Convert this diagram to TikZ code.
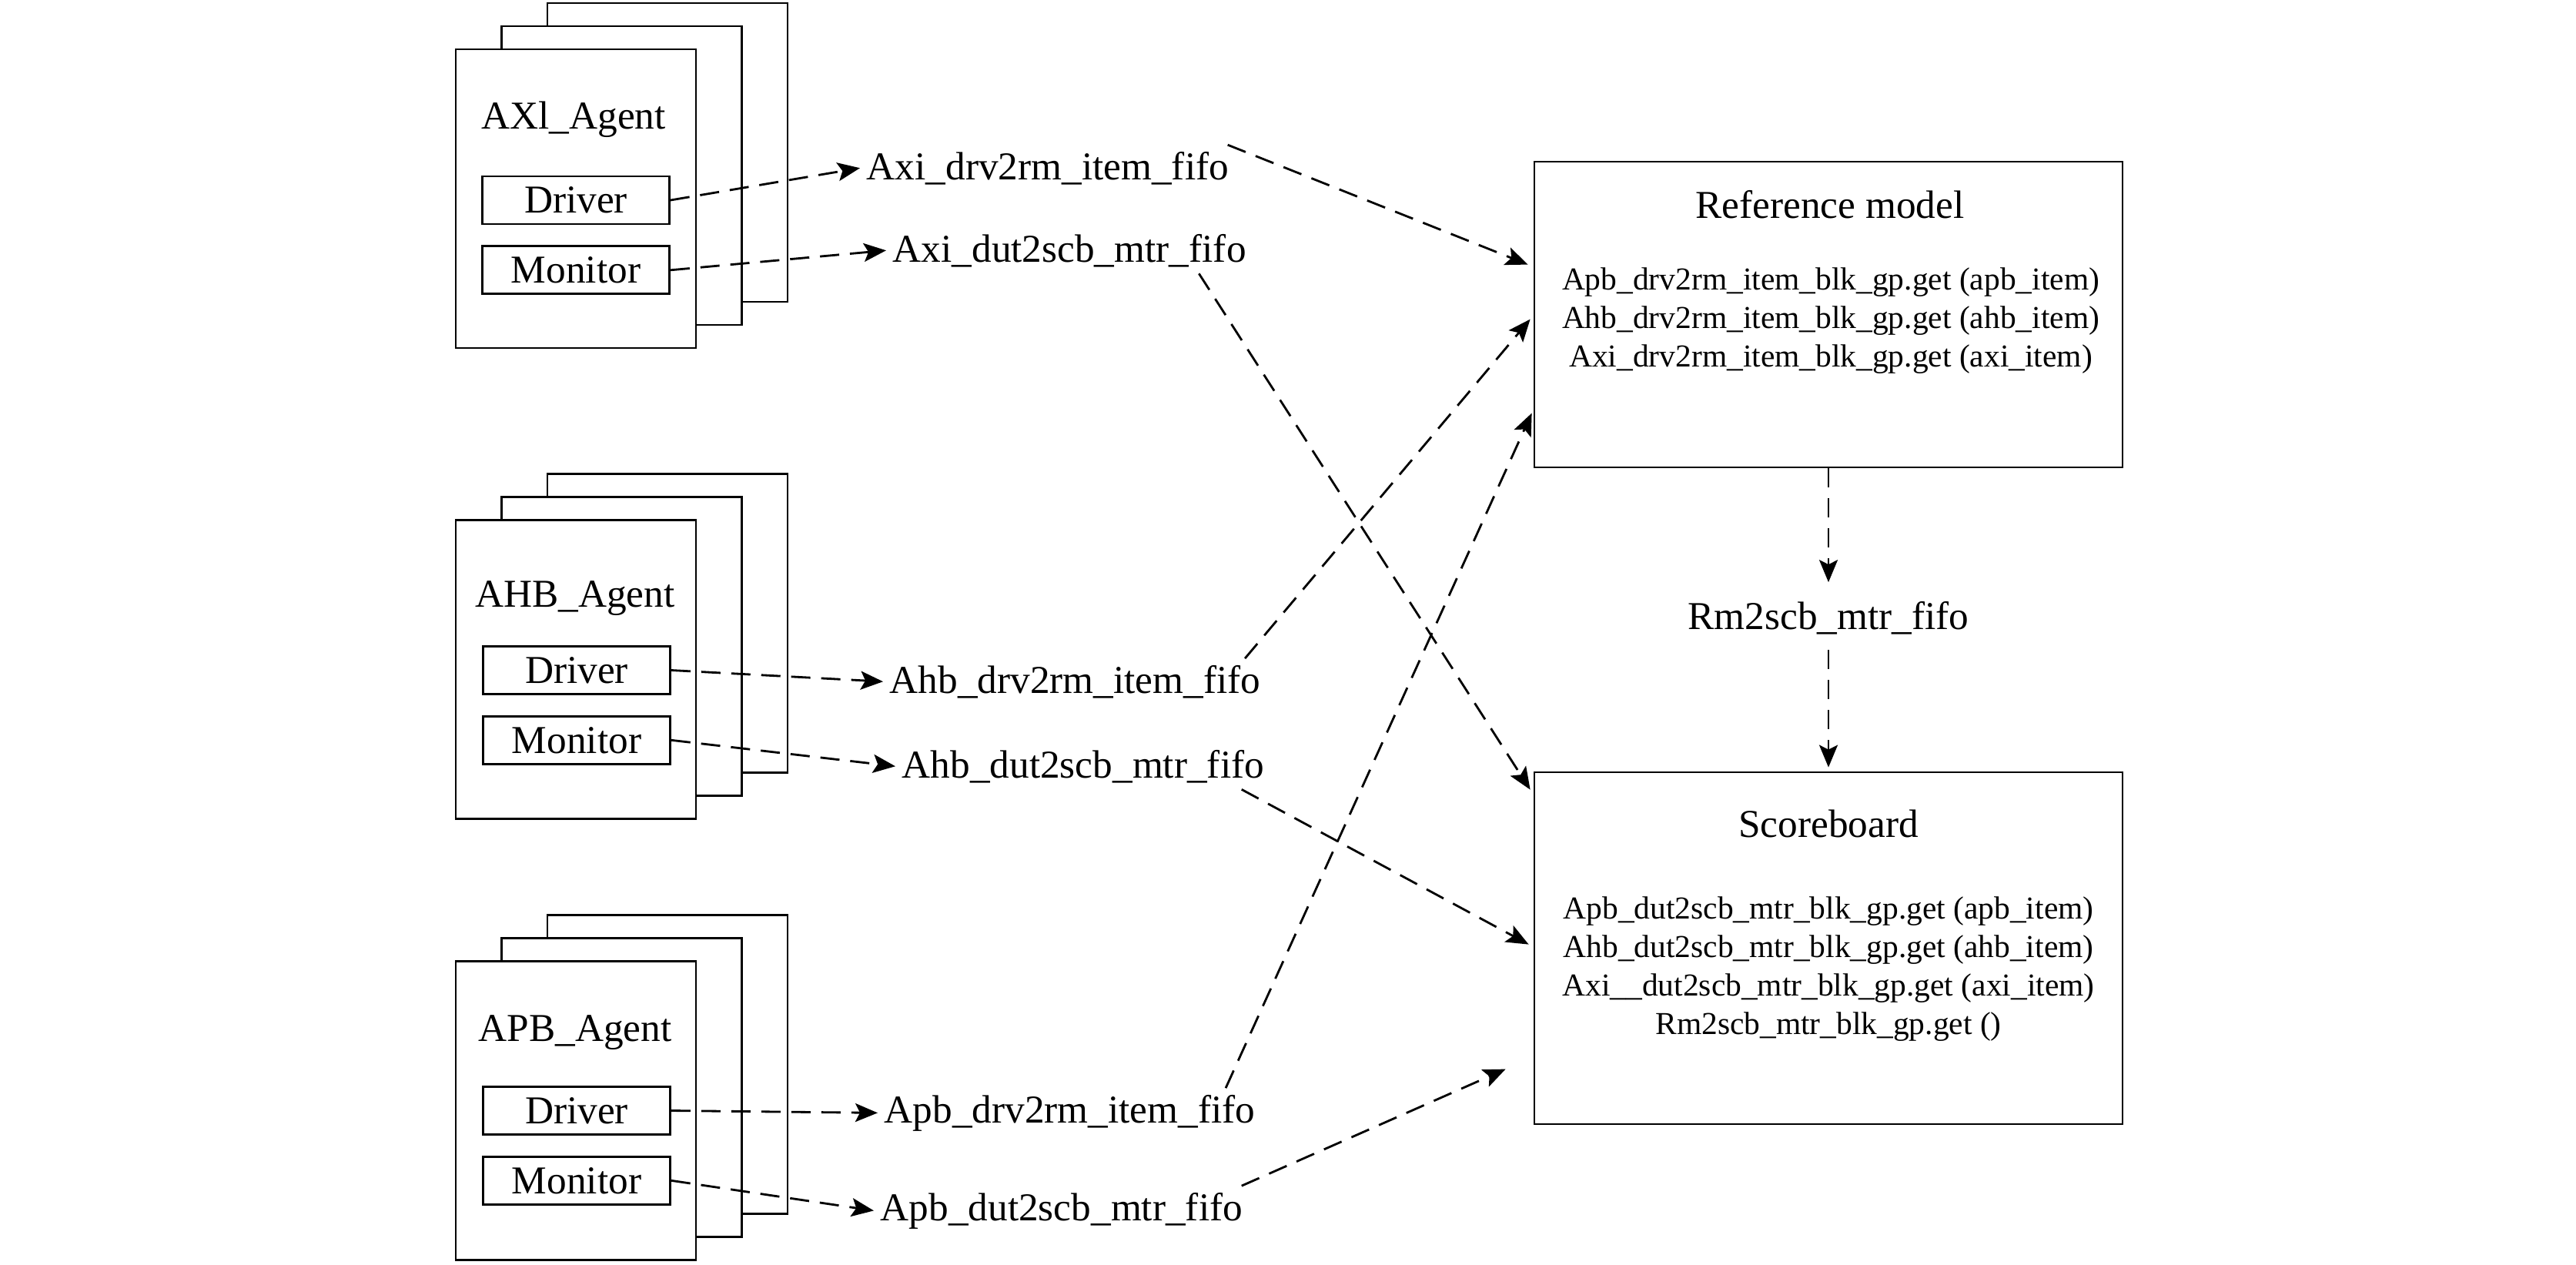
\documentclass[tikz,border=0pt]{standalone}
\usepackage{fontspec}
\setmainfont{Liberation Serif}
\usepackage{tikz}
\usetikzlibrary{positioning,arrows.meta}
\newcommand{\lblf}{\fontsize{14.6}{17.5}\selectfont}
\newcommand{\getf}{\fontsize{11.8}{14.2}\selectfont}

\begin{document}
\begin{tikzpicture}[
    >={Stealth[length=2.9mm,width=2.4mm,inset=0.6mm]},
    agent/.style={draw,fill=white,line width=0.8pt,
                  minimum width=3.12cm,minimum height=3.88cm},
    sub/.style={draw,fill=white,line width=0.8pt,minimum width=2.43cm,
                minimum height=0.62cm,inner sep=0pt,font=\lblf},
    big/.style={draw,line width=0.8pt,minimum width=7.64cm},
    ttl/.style={font=\lblf,anchor=base,inner sep=0pt},
    fifo/.style={font=\lblf,anchor=base west,inner sep=0.8mm},
    getl/.style={font=\getf,align=center,anchor=north,inner sep=0pt},
    arr/.style={->,line width=0.8pt,dash pattern=on 2.5mm off 1.4mm},
  ]
  \useasboundingbox (0,0) rectangle (33.46,-16.42);
  % agent stacks
  \node[agent] (axi3) at (8.67,-1.98)   {};
  \node[agent] (axi2) at (8.075,-2.28)  {};
  \node[agent] (axi1) at (7.48,-2.58)   {};
  \node[agent] (ahb3) at (8.67,-8.095)  {};
  \node[agent] (ahb2) at (8.075,-8.395) {};
  \node[agent] (ahb1) at (7.48,-8.695)  {};
  \node[agent] (apb3) at (8.67,-13.825) {};
  \node[agent] (apb2) at (8.075,-14.125){};
  \node[agent] (apb1) at (7.48,-14.425) {};
  \node[ttl] (axiname) at (7.45,-1.67)  {AXl\_Agent};
  \node[ttl] (ahbname) at (7.47,-7.88)  {AHB\_Agent};
  \node[ttl] (apbname) at (7.47,-13.52) {APB\_Agent};
  \node[sub] (axidrv) at (7.48,-2.60)  {Driver};
  \node[sub,below=0.26cm of axidrv] (aximon) {Monitor};
  \node[sub] (ahbdrv) at (7.49,-8.705) {Driver};
  \node[sub,below=0.26cm of ahbdrv] (ahbmon) {Monitor};
  \node[sub] (apbdrv) at (7.49,-14.425){Driver};
  \node[sub,below=0.26cm of apbdrv] (apbmon) {Monitor};
  % fifos
  \node[fifo] (axidrvff) at (11.17,-2.33)  {Axi\_drv2rm\_item\_fifo};
  \node[fifo] (aximonff) at (11.51,-3.40)  {Axi\_dut2scb\_mtr\_fifo};
  \node[fifo] (ahbdrvff) at (11.47,-9.00)  {Ahb\_drv2rm\_item\_fifo};
  \node[fifo] (ahbmonff) at (11.63,-10.10) {Ahb\_dut2scb\_mtr\_fifo};
  \node[fifo] (apbdrvff) at (11.40,-14.58) {Apb\_drv2rm\_item\_fifo};
  \node[fifo] (apbmonff) at (11.35,-15.85) {Apb\_dut2scb\_mtr\_fifo};
  % reference model / scoreboard
  \node[big,minimum height=3.97cm] (rm) at (23.75,-4.085)  {};
  \node[big,minimum height=4.57cm] (sb) at (23.75,-12.315) {};
  \node[ttl] (rmname) at (23.77,-2.83)  {Reference model};
  \node[getl] (rmget) at (23.78,-3.47)
    {Apb\_drv2rm\_item\_blk\_gp.get (apb\_item)\\
     Ahb\_drv2rm\_item\_blk\_gp.get (ahb\_item)\\
     Axi\_drv2rm\_item\_blk\_gp.get (axi\_item)};
  \node[ttl] (sbname) at (23.75,-10.87) {Scoreboard};
  \node[getl] (sbget) at (23.75,-11.64)
    {Apb\_dut2scb\_mtr\_blk\_gp.get (apb\_item)\\
     Ahb\_dut2scb\_mtr\_blk\_gp.get (ahb\_item)\\
     Axi\_\_dut2scb\_mtr\_blk\_gp.get (axi\_item)\\
     Rm2scb\_mtr\_blk\_gp.get ()};
  \node[ttl] (rmsb) at (23.75,-8.17) {Rm2scb\_mtr\_fifo};
  % connectors
  \draw[arr] (axidrv.east) -- (axidrvff.west);
  \draw[arr] (aximon.east) -- (aximonff.west);
  \draw[arr] (ahbdrv.east) -- (ahbdrvff.west);
  \draw[arr] (ahbmon.east) -- (ahbmonff.west);
  \draw[arr] (apbdrv.east) -- (apbdrvff.west);
  \draw[arr] (apbmon.east) -- (apbmonff.west);
  \draw[arr] ([xshift=-1mm]axidrvff.north east) -- ([xshift=-0.7mm,yshift=-13.5mm]rm.north west);
  \draw[arr] ([xshift=-2.9mm]ahbdrvff.north east) -- ([xshift=-0.4mm,yshift=-20.6mm]rm.north west);
  \draw[arr] ([xshift=-4.7mm]apbdrvff.north east) -- ([xshift=-0.2mm,yshift=-32.8mm]rm.north west);
  \draw[arr] ([xshift=-7mm]aximonff.south east) -- ([xshift=-0.4mm,yshift=-2.4mm]sb.north west);
  \draw[arr] ([xshift=-3.8mm]ahbmonff.south east) -- ([xshift=-0.6mm,yshift=-22.5mm]sb.north west);
  \draw[arr] ([xshift=-1mm]apbmonff.north east) -- ([xshift=-3.6mm,yshift=-38.7mm]sb.north west);
  \draw[arr] (rm.south) -- ([yshift=2.4mm]rmsb.north);
  \draw[arr] ([yshift=-2mm]rmsb.south) -- ([yshift=0.5mm]sb.north);
\end{tikzpicture}
\end{document}
